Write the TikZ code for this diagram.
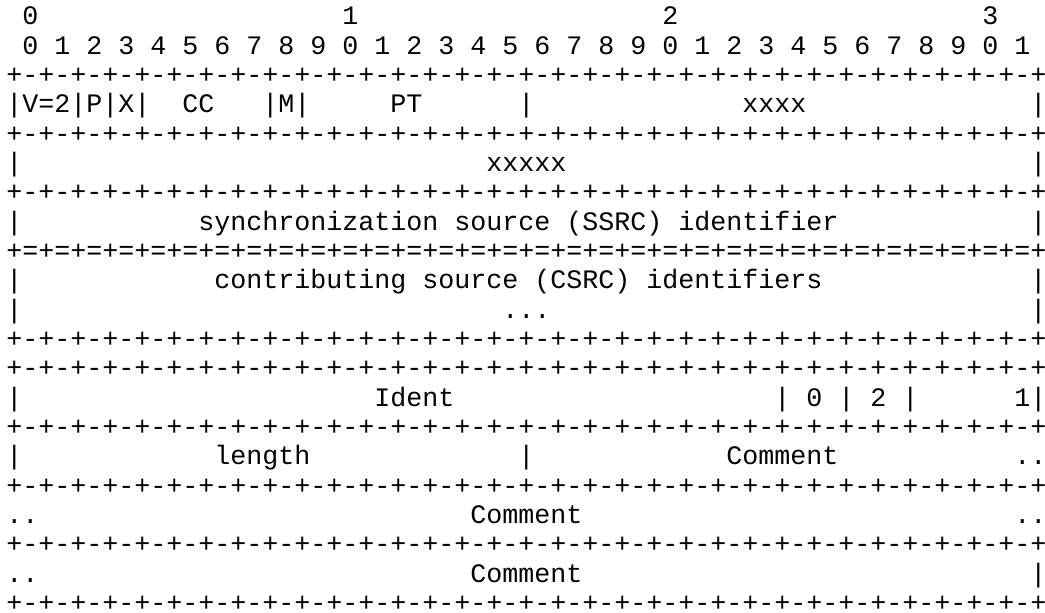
\documentclass[tikz,border=0pt]{standalone}
\usepackage{fontspec}
\usepackage{tikz}
\newfontfamily\asciifont{Liberation Mono}
\def\dashrule{+-+-+-+-+-+-+-+-+-+-+-+-+-+-+-+-+-+-+-+-+-+-+-+-+-+-+-+-+-+-+-+-+}
\def\eqrule{+=+=+=+=+=+=+=+=+=+=+=+=+=+=+=+=+=+=+=+=+=+=+=+=+=+=+=+=+=+=+=+=+}

\begin{document}
\begin{tikzpicture}[x=12pt, y=-22pt,
		txt/.style={anchor=base west, inner sep=0pt, font=\asciifont\fontsize{20pt}{22pt}\selectfont}]
			%%%%% RULER %%%%%
			
			\useasboundingbox (-4.5pt,-3.5pt) rectangle (779.25pt,-462.5pt);
			
			\foreach \t in {0,...,3}
				\node[txt] (dec\t) at ({20*\t+1}, 1) {\t};
			\foreach \k in {0,...,31}{
				\pgfmathtruncatemacro\d{mod(\k,10)}
				\node[txt] (bit\k) at ({2*\k+1}, 2) {\d};
			}
			
			%%%%% HEADER %%%%%
			
			\node[txt] (rulea) at (0, 3) {\dashrule};
			\node[txt] (vpx) at (0, 4) {|V=2|P|X|};
			\node[txt] (cc) at (11, 4) {CC};
			\node[txt] (mark) at (16, 4) {|M|};
			\node[txt] (pt) at (24, 4) {PT};
			\node[txt] (bara) at (32, 4) {|};
			\node[txt] (seqno) at (46, 4) {xxxx};
			\node[txt] (barb) at (64, 4) {|};
			\node[txt] (ruleb) at (0, 5) {\dashrule};
			\node[txt] (barc) at (0, 6) {|};
			\node[txt] (stamp) at (30, 6) {xxxxx};
			\node[txt] (bard) at (64, 6) {|};
			\node[txt] (rulec) at (0, 7) {\dashrule};
			\node[txt] (bare) at (0, 8) {|};
			\node[txt] (ssrc) at (12, 8) {synchronization source (SSRC) identifier};
			\node[txt] (barf) at (64, 8) {|};
			\node[txt] (ruled) at (0, 9) {\eqrule};
			\node[txt] (barg) at (0, 10) {|};
			\node[txt] (csrc) at (13, 10) {contributing source (CSRC) identifiers};
			\node[txt] (barh) at (64, 10) {|};
			\node[txt] (bari) at (0, 11) {|};
			\node[txt] (more) at (31, 11) {...};
			\node[txt] (barj) at (64, 11) {|};
			\node[txt] (rulee) at (0, 12) {\dashrule};
			
			%%%%% EXTENSION %%%%%
			
			\node[txt] (rulef) at (0, 13) {\dashrule};
			\node[txt] (bark) at (0, 14) {|};
			\node[txt] (ident) at (23, 14) {Ident};
			\node[txt] (flags) at (48, 14) {| 0 | 2 |};
			\node[txt] (one) at (63, 14) {1|};
			\node[txt] (ruleg) at (0, 15) {\dashrule};
			\node[txt] (barl) at (0, 16) {|};
			\node[txt] (len) at (13, 16) {length};
			\node[txt] (barm) at (32, 16) {|};
			\node[txt] (cmta) at (45, 16) {Comment};
			\node[txt] (dota) at (63, 16) {..};
			\node[txt] (ruleh) at (0, 17) {\dashrule};
			\node[txt] (dotb) at (0, 18) {..};
			\node[txt] (cmtb) at (29, 18) {Comment};
			\node[txt] (dotc) at (63, 18) {..};
			\node[txt] (rulei) at (0, 19) {\dashrule};
			\node[txt] (dotd) at (0, 20) {..};
			\node[txt] (cmtc) at (29, 20) {Comment};
			\node[txt] (barn) at (64, 20) {|};
			\node[txt] (rulej) at (0, 21) {\dashrule};
			
			%%%%% END %%%%%
		\end{tikzpicture}
\end{document}
